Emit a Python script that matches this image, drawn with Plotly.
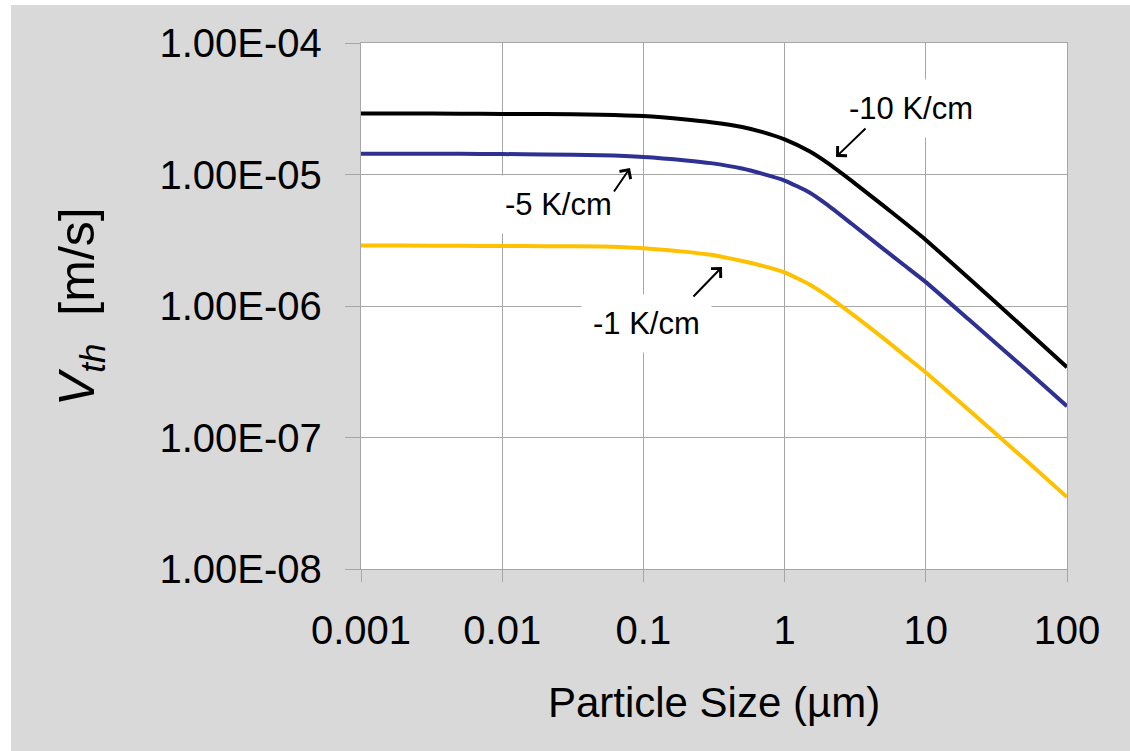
import plotly.graph_objects as go

# Particle size (µm)
particle_size = [0.001, 0.002, 0.005, 0.01, 0.02, 0.05, 0.1, 0.2, 0.3, 0.5, 0.7,
                 1, 1.5, 2, 3, 5, 7, 10, 20, 50, 100]

# Thermophoretic velocity (m/s) for each temperature gradient
v_10 = [2.91e-5, 2.91e-5, 2.90e-5, 2.89e-5, 2.88e-5, 2.85e-5, 2.78e-5, 2.62e-5, 2.50e-5,
        2.30e-5, 2.10e-5, 1.85e-5, 1.50e-5, 1.23e-5, 8.9e-6, 5.8e-6, 4.35e-6, 3.18e-6,
        1.64e-6, 6.75e-7, 3.42e-7]
v_5 = [1.44e-5, 1.44e-5, 1.435e-5, 1.43e-5, 1.42e-5, 1.40e-5, 1.36e-5, 1.28e-5, 1.22e-5,
       1.11e-5, 1.01e-5, 9.0e-6, 7.3e-6, 5.9e-6, 4.2e-6, 2.72e-6, 2.05e-6, 1.52e-6,
       7.95e-7, 3.36e-7, 1.73e-7]
v_1 = [2.88e-6, 2.88e-6, 2.87e-6, 2.86e-6, 2.85e-6, 2.83e-6, 2.75e-6, 2.58e-6, 2.45e-6,
       2.20e-6, 2.02e-6, 1.80e-6, 1.46e-6, 1.20e-6, 8.7e-7, 5.7e-7, 4.25e-7, 3.12e-7,
       1.63e-7, 6.85e-8, 3.52e-8]

series_names = ["-10 K/cm", "-5 K/cm", "-1 K/cm"]
series_values = [v_10, v_5, v_1]
series_colors = ["#000000", "#2E3192", "#FFC000"]

x_tickvals = [0.001, 0.01, 0.1, 1, 10, 100]
x_ticktext = ["0.001", "0.01", "0.1", "1", "10", "100"]
y_tickvals = [1e-8, 1e-7, 1e-6, 1e-5, 1e-4]
y_ticktext = ["1.00E-08", "1.00E-07", "1.00E-06", "1.00E-05", "1.00E-04"]

FONT = "Liberation Sans, Arial, sans-serif"
GRID = "#A6A6A6"
BG = "#D9D9D9"

fig = go.Figure()
for name, vals, col in zip(series_names, series_values, series_colors):
    fig.add_trace(go.Scatter(x=particle_size, y=vals, mode="lines", name=name,
                             line=dict(color=col, width=4, shape="spline", smoothing=0.5)))

W, H = 1130, 751
L, R, T, B = 361, 63, 43, 182
pw = W - L - R
ph = H - T - B

def px_x(px):
    return (px - L) / pw

def px_y(py):
    return 1 - (py - T) / ph

fig.update_layout(
    width=W, height=H,
    margin=dict(l=L, r=R, t=T, b=B, pad=0),
    paper_bgcolor=BG,
    plot_bgcolor="#FFFFFF",
    showlegend=False,
    font=dict(family=FONT, color="#000000", size=40),
)

fig.update_xaxes(
    type="log", range=[-3, 2],
    tickvals=x_tickvals, ticktext=x_ticktext,
    showgrid=True, gridcolor=GRID, gridwidth=1.3,
    showline=True, linecolor=GRID, linewidth=1.3, mirror=True,
    ticks="outside", ticklen=12, tickcolor=GRID, tickwidth=1.3,
    tickfont=dict(size=40, family=FONT, color="#000000"),
    ticklabelstandoff=14,
    title=dict(text="Particle Size (µm)", font=dict(size=42, family=FONT, color="#000000"), standoff=36),
    zeroline=False,
)
fig.update_yaxes(
    type="log", range=[-8, -4],
    tickvals=y_tickvals, ticktext=y_ticktext,
    showgrid=True, gridcolor=GRID, gridwidth=1.3,
    showline=True, linecolor=GRID, linewidth=1.3, mirror=True,
    ticks="outside", ticklen=15, tickcolor=GRID, tickwidth=1.3,
    tickfont=dict(size=40, family=FONT, color="#000000"),
    ticklabelstandoff=15,
    zeroline=False,
)

# white outer strips (the gray panel starts slightly inside the page)
fig.add_shape(type="rect", xref="paper", yref="paper", layer="below",
              x0=px_x(0), x1=px_x(11), y0=px_y(H), y1=px_y(0),
              fillcolor="#FFFFFF", line=dict(width=0))
fig.add_shape(type="rect", xref="paper", yref="paper", layer="below",
              x0=px_x(0), x1=px_x(W), y0=px_y(5), y1=px_y(0),
              fillcolor="#FFFFFF", line=dict(width=0))

# y axis title
fig.add_annotation(xref="paper", yref="paper", x=px_x(80), y=px_y(307),
                   text="<i>V</i><sub><i>th</i></sub>&nbsp;&nbsp;[m/s]", textangle=-90,
                   showarrow=False, xanchor="center", yanchor="middle",
                   font=dict(size=50, family=FONT, color="#000000"))

# series labels
lab_font = dict(size=31, family=FONT, color="#000000")
labels = [(911, 108), (558, 204), (646, 323)]
for name, (lx, ly) in zip(series_names, labels):
    fig.add_annotation(xref="paper", yref="paper", x=px_x(lx), y=px_y(ly), text=name,
                       showarrow=False, xanchor="center", yanchor="middle",
                       font=lab_font, bgcolor="#FFFFFF", borderpad=11)

# arrows (head at (x,y), tail offset ax/ay in px)
arrows = [((836, 157), (31, -30)), ((630, 168), (-17, 25)), ((722, 267), (-30, 31))]
for (hx, hy), (dx, dy) in arrows:
    fig.add_annotation(xref="paper", yref="paper", x=px_x(hx), y=px_y(hy), text="",
                       showarrow=True, arrowhead=4, arrowsize=1.3, arrowwidth=2,
                       arrowcolor="#000000", ax=dx, ay=dy, standoff=0)

fig.write_html("out.html", config={"displayModeBar": False},
               post_script="document.body.style.margin='0px';")
